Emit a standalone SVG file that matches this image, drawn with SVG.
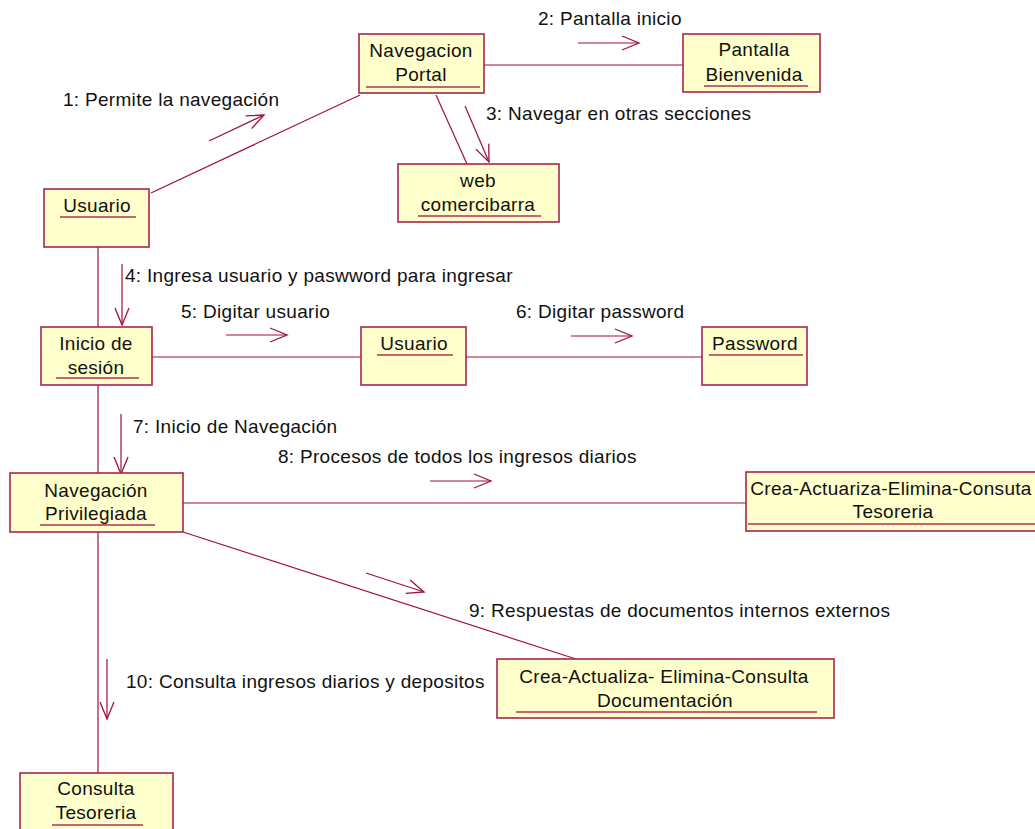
<svg xmlns="http://www.w3.org/2000/svg" width="1035" height="829" viewBox="0 0 1035 829">
<style>
text{font-family:"Liberation Sans",Arial,sans-serif;font-size:19px;fill:#111;letter-spacing:0.3px}
.n text{text-anchor:middle}
.box{fill:#FFFFCC;stroke:#A82550;stroke-width:1.6}
.ul{stroke:#B0305A;stroke-width:1.3}
.c line{stroke:#A0103F;stroke-width:1.2;fill:none}
.m line{stroke:#A0103F;stroke-width:1.2;fill:none;marker-end:url(#ah)}
</style>
<defs>
<marker id="ah" markerUnits="userSpaceOnUse" viewBox="-19 -9 21 18" markerWidth="21" markerHeight="18" refX="0" refY="0" orient="auto">
<path d="M-17,-7 L0,0 L-17,7" fill="none" stroke="#A0103F" stroke-width="1.3"/>
</marker>
</defs>
<rect width="1035" height="829" fill="#fff"/>
<g id="connectors" class="c">
<line x1="151" y1="193" x2="360" y2="95"/>
<line x1="484" y1="65" x2="683" y2="65"/>
<line x1="436" y1="95" x2="467" y2="164"/>
<line x1="98" y1="247" x2="98" y2="327"/>
<line x1="152" y1="357" x2="361" y2="357"/>
<line x1="466" y1="357" x2="702" y2="357"/>
<line x1="98" y1="385" x2="98" y2="473"/>
<line x1="183" y1="503" x2="746" y2="503"/>
<line x1="183" y1="532" x2="576" y2="659"/>
<line x1="98" y1="532" x2="98" y2="773"/>
</g>
<g id="messages" class="m">
<line x1="209" y1="141" x2="264" y2="115"/>
<line x1="578" y1="43" x2="639" y2="43"/>
<line x1="465" y1="106" x2="489" y2="162"/>
<line x1="122" y1="264" x2="122" y2="325"/>
<line x1="226" y1="335" x2="287" y2="335"/>
<line x1="571" y1="336" x2="632" y2="336"/>
<line x1="121" y1="414" x2="121" y2="474"/>
<line x1="430" y1="481" x2="491" y2="481"/>
<line x1="366" y1="573" x2="424" y2="592"/>
<line x1="107" y1="659" x2="107" y2="719"/>
</g>
<g id="labels">
<text x="63" y="106">1: Permite la navegación</text>
<text x="538" y="25">2: Pantalla inicio</text>
<text x="486" y="120">3: Navegar en otras secciones</text>
<text x="125" y="282">4: Ingresa usuario y paswword para ingresar</text>
<text x="181" y="318">5: Digitar usuario</text>
<text x="516" y="318">6: Digitar password</text>
<text x="133" y="433">7: Inicio de Navegación</text>
<text x="278" y="463">8: Procesos de todos los ingresos diarios</text>
<text x="469" y="617">9: Respuestas de documentos internos externos</text>
<text x="126" y="688">10: Consulta ingresos diarios y depositos</text>
</g>
<g id="nav-portal" class="n">
<rect class="box" x="359" y="34" width="125" height="59"/>
<text x="421" y="57">Navegacion</text><text x="421" y="81">Portal</text>
<line class="ul" x1="366" y1="87" x2="480" y2="87"/>
</g>
<g id="pantalla-bienvenida" class="n">
<rect class="box" x="683" y="34" width="137" height="58"/>
<text x="754" y="56">Pantalla</text><text x="754" y="81">Bienvenida</text>
<line class="ul" x1="704" y1="86" x2="808" y2="86"/>
</g>
<g id="web-comercibarra" class="n">
<rect class="box" x="398" y="164" width="161" height="58"/>
<text x="478" y="187">web</text><text x="478" y="211">comercibarra</text>
<line class="ul" x1="418" y1="216" x2="541" y2="216"/>
</g>
<g id="usuario-1" class="n">
<rect class="box" x="44" y="189" width="105" height="58"/>
<text x="97" y="212">Usuario</text>
<line class="ul" x1="60" y1="217" x2="136" y2="217"/>
</g>
<g id="inicio-sesion" class="n">
<rect class="box" x="41" y="327" width="111" height="58"/>
<text x="96" y="350">Inicio de</text><text x="96" y="374">sesión</text>
<line class="ul" x1="56" y1="378" x2="139" y2="378"/>
</g>
<g id="usuario-2" class="n">
<rect class="box" x="361" y="327" width="105" height="58"/>
<text x="414" y="350">Usuario</text>
<line class="ul" x1="377" y1="355" x2="453" y2="355"/>
</g>
<g id="password" class="n">
<rect class="box" x="702" y="327" width="105" height="58"/>
<text x="755" y="350">Password</text>
<line class="ul" x1="709" y1="355" x2="803" y2="355"/>
</g>
<g id="navegacion-privilegiada" class="n">
<rect class="box" x="10" y="473" width="173" height="59"/>
<text x="96" y="497">Navegación</text><text x="96" y="520">Privilegiada</text>
<line class="ul" x1="40" y1="525" x2="155" y2="525"/>
</g>
<g id="crea-tesoreria" class="n">
<rect class="box" x="746" y="472" width="295" height="59"/>
<text x="891" y="495">Crea-Actuariza-Elimina-Consuta</text><text x="893" y="518">Tesoreria</text>
<line class="ul" x1="748" y1="524" x2="1035" y2="524"/>
</g>
<g id="crea-documentacion" class="n">
<rect class="box" x="497" y="659" width="337" height="59"/>
<text x="664" y="683">Crea-Actualiza- Elimina-Consulta</text><text x="665" y="707">Documentación</text>
<line class="ul" x1="516" y1="712" x2="817" y2="712"/>
</g>
<g id="consulta-tesoreria" class="n">
<rect class="box" x="20" y="773" width="153" height="62"/>
<text x="96" y="795">Consulta</text><text x="96" y="819">Tesoreria</text>
<line class="ul" x1="52" y1="825" x2="143" y2="825"/>
</g>
</svg>
